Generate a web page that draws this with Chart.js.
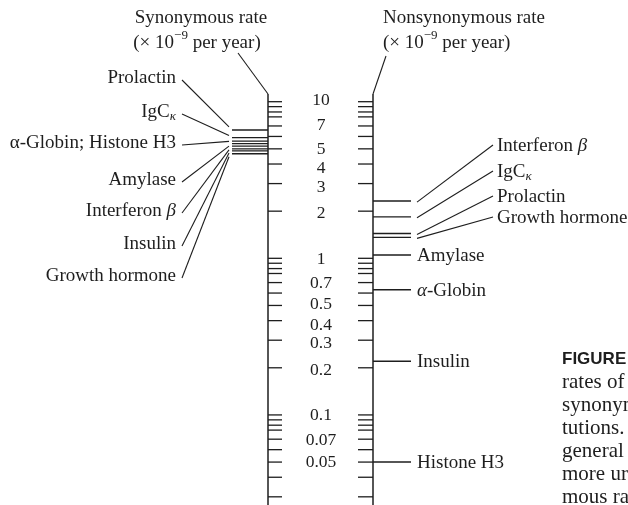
<!DOCTYPE html>
<html>
<head>
<meta charset="utf-8">
<script src="https://cdn.jsdelivr.net/npm/chart.js@4"></script>
<style>
html, body { margin: 0; padding: 0; background: #fff; }
#wrap { width: 628px; height: 505px; }
</style>
</head>
<body>
<div id="wrap"><canvas id="chart" width="628" height="505"></canvas></div>
<script>
// Genes, in the order of the left-hand cluster (top to bottom)
const genes = ['Prolactin', 'IgCκ', 'α-Globin', 'Histone H3', 'Amylase', 'Interferon β', 'Insulin', 'Growth hormone'];
// Rates (x 10^-9 per year)
const synonymousRate = [6.6, 5.9, 5.6, 5.4, 5.2, 5.0, 4.85, 4.65];
const nonsynonymousRate = [1.44, 1.84, 0.63, 0.05, 1.05, 2.32, 0.22, 1.36];
// Axis ticks and labels
const tickValues = [10, 9.3, 8.6, 8, 7, 6, 5, 4, 3, 2,
                    1, 0.93, 0.86, 0.8, 0.7, 0.6, 0.5, 0.4, 0.3, 0.2,
                    0.1, 0.093, 0.086, 0.08, 0.07, 0.06, 0.05, 0.04, 0.03];
const tickLabels = ['10', '7', '5', '4', '3', '2', '1', '0.7', '0.5', '0.4', '0.3', '0.2', '0.1', '0.07', '0.05'];
const axisMin = 0.0266;
const axisMax = 44.6;

// small vertical nudges of the tick labels, as typeset in the figure (px)
const labelNudge = [-2, -2, 0, 3, 3, 1, 0, 0, -2, 4, 2, 2, -1, 0, -1];

// Label groups for the left side (index lists into genes)
const leftGroups = [
    { parts: [{ t: 'Prolactin' }], idx: [0], y: 78 },
    { parts: [{ t: 'IgC' }, { t: 'κ', it: true, sub: true }], idx: [1], y: 112 },
    { parts: [{ t: 'α-Globin; Histone H3' }], idx: [2, 3], y: 143 },
    { parts: [{ t: 'Amylase' }], idx: [4], y: 180 },
    { parts: [{ t: 'Interferon ' }, { t: 'β', it: true }], idx: [5], y: 211 },
    { parts: [{ t: 'Insulin' }], idx: [6], y: 244 },
    { parts: [{ t: 'Growth hormone' }], idx: [7], y: 276 }
];
// Right side: genes labelled via a slanted leader, and genes labelled in place
const rightLeader = [
    { parts: [{ t: 'Interferon ' }, { t: 'β', it: true }], i: 5, y: 146 },
    { parts: [{ t: 'IgC' }, { t: 'κ', it: true, sub: true }], i: 1, y: 172 },
    { parts: [{ t: 'Prolactin' }], i: 0, y: 197 },
    { parts: [{ t: 'Growth hormone' }], i: 7, y: 218 }
];
const rightDirect = [
    { parts: [{ t: 'Amylase' }], i: 4 },
    { parts: [{ t: 'α', it: true }, { t: '-Globin' }], i: 2 },
    { parts: [{ t: 'Insulin' }], i: 6 },
    { parts: [{ t: 'Histone H3' }], i: 3 }
];
const captionLines = ['rates of', 'synonym', 'tutions.', 'general', 'more ur', 'mous ra'];

const INK = '#1e1e1e';
const SERIF = '"Liberation Serif", "Times New Roman", serif';
const FS = 19;
const LAX = 268, RAX = 373, AXIS_TOP = 94;

function font(size, it) {
    return (it ? 'italic ' : '') + size + 'px ' + SERIF;
}

function drawRich(ctx, parts, x, y, align) {
    let w = 0;
    parts.forEach(p => {
        ctx.font = font(p.sub || p.sup ? 13 : FS, p.it);
        p.w = ctx.measureText(p.t).width;
        w += p.w;
    });
    let cx = align === 'right' ? x - w : (align === 'center' ? x - w / 2 : x);
    ctx.textAlign = 'left';
    ctx.textBaseline = 'middle';
    parts.forEach(p => {
        ctx.font = font(p.sub || p.sup ? 13 : FS, p.it);
        let dy = p.sub ? 5 : (p.sup ? -7 : 0);
        ctx.fillText(p.t, cx, y + dy);
        cx += p.w;
    });
}

function line(ctx, x0, y0, x1, y1, w) {
    ctx.lineWidth = w || 1.2;
    ctx.beginPath();
    ctx.moveTo(x0, y0);
    ctx.lineTo(x1, y1);
    ctx.stroke();
}

const figurePlugin = {
    id: 'figure',
    afterDatasetsDraw(chart) {
        const ctx = chart.ctx;
        const ys = chart.scales.y;
        const py = v => ys.getPixelForValue(v);
        const bottom = chart.height;
        ctx.save();
        ctx.strokeStyle = INK;
        ctx.fillStyle = INK;

        // axes
        line(ctx, LAX, AXIS_TOP, LAX, bottom, 1.5);
        line(ctx, RAX, AXIS_TOP, RAX, bottom, 1.5);
        line(ctx, LAX, AXIS_TOP, 238, 53, 1.1);
        line(ctx, RAX, AXIS_TOP, 386, 56, 1.1);
        tickValues.forEach(v => {
            const y = py(v);
            line(ctx, LAX, y, LAX + 14, y, 1.3);
            line(ctx, RAX - 15, y, RAX, y, 1.3);
        });
        ctx.font = font(17.5);
        ctx.textAlign = 'center';
        ctx.textBaseline = 'middle';
        tickLabels.forEach((s, k) => ctx.fillText(s, 321, py(Number(s)) + 1 + labelNudge[k]));

        // titles
        drawRich(ctx, [{ t: 'Synonymous rate' }], 201, 18, 'center');
        drawRich(ctx, [{ t: '(× 10' }, { t: '−9', sup: true }, { t: ' per year)' }], 197, 43, 'center');
        drawRich(ctx, [{ t: 'Nonsynonymous rate' }], 383, 18, 'left');
        drawRich(ctx, [{ t: '(× 10' }, { t: '−9', sup: true }, { t: ' per year)' }], 383, 43, 'left');

        // left labels and leaders
        leftGroups.forEach((g, k) => {
            drawRich(ctx, g.parts, 176, g.y, 'right');
            const yv = g.idx.reduce((s, i) => s + py(synonymousRate[i]), 0) / g.idx.length;
            line(ctx, 182, g.y + 2, 229, yv + (k - 3), 1.1);
        });

        // right labels and leaders
        rightLeader.forEach(g => {
            line(ctx, 417, py(nonsynonymousRate[g.i]) + 1, 493, g.y - 1, 1.1);
            drawRich(ctx, g.parts, 497, g.y, 'left');
        });
        rightDirect.forEach(g => {
            drawRich(ctx, g.parts, 417, py(nonsynonymousRate[g.i]) + 1, 'left');
        });

        // caption fragment
        ctx.font = 'bold 17px "Liberation Sans", Arial, sans-serif';
        ctx.textAlign = 'left';
        ctx.textBaseline = 'middle';
        ctx.fillText('FIGURE', 562, 359);
        ctx.font = font(21);
        captionLines.forEach((s, k) => ctx.fillText(s, 562, 382 + k * 23));
        ctx.restore();
    }
};

function segments(vals, x0, x1) {
    return vals.map((v, i) => ({
        label: genes[i],
        data: [{ x: x0, y: v }, { x: x1, y: v }],
        borderColor: INK,
        borderWidth: 1.4,
        pointRadius: 0,
        fill: false
    }));
}

new Chart(document.getElementById('chart'), {
    type: 'line',
    data: {
        datasets: segments(synonymousRate, 232, LAX).concat(segments(nonsynonymousRate, RAX, 411))
    },
    options: {
        responsive: false,
        animation: false,
        layout: { padding: 0 },
        plugins: { legend: { display: false }, tooltip: { enabled: false } },
        scales: {
            x: { type: 'linear', min: 0, max: 628, display: false },
            y: { type: 'logarithmic', min: axisMin, max: axisMax, bounds: 'data', display: false }
        }
    },
    plugins: [figurePlugin]
});
</script>
</body>
</html>
